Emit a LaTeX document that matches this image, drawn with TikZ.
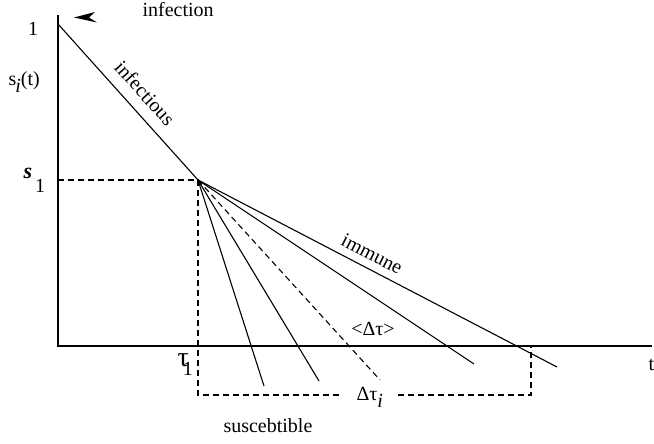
\documentclass[tikz,border=0pt]{standalone}
\usepackage{fontspec}
\setmainfont{Liberation Serif}
\begin{document}
\begin{tikzpicture}[x=1pt,y=-1pt,line width=1.1pt,
  lbl/.style={inner sep=0pt,font=\fontsize{20}{24}\selectfont},
  dsh/.style={dash pattern=on 6pt off 4pt}]
\useasboundingbox (0,0) rectangle (654,444);
% key points
\coordinate (top) at (58,15);
\coordinate (O) at (58,346);
\coordinate (xe) at (652,346);
\coordinate (one) at (58,24);
\coordinate (A) at (198,180);
\coordinate (s1y) at (58,180);
\coordinate (bl) at (198,395);
\coordinate (gL) at (340,395);
\coordinate (gR) at (398,395);
\coordinate (br) at (531,395);
\coordinate (brt) at (531,346);
\coordinate (e1) at (264,386);
\coordinate (e2) at (319,381);
\coordinate (ed) at (380,380);
\coordinate (e3) at (474,364);
\coordinate (e4) at (557,367);
% axes
\draw (top) -- (O) -- (xe);
% curves
\draw (one) -- (A);
\draw (A) -- (e1);
\draw (A) -- (e2);
\draw[dsh] (A) -- (ed);
\draw (A) -- (e3);
\draw (A) -- (e4);
% dashed guides
\draw[dsh] (s1y) -- (A) -- (bl) -- (gL);
\draw[dsh] (gR) -- (br) -- (brt);
% arrowhead
\fill (74,17.5) -- (95,12) -- (89,17.5) -- (97,22.5) -- cycle;
% labels
\node[lbl,anchor=base west] (infection) at (142,17) {infection};
\node[lbl] (lone) at (33,29) {1};
\node[lbl,anchor=base west] (si) at (8,85) {s\kern-1pt\raisebox{-7pt}{\textit{i}}(t)};
\node[lbl,anchor=base west] (sone) at (23,178) {\fontsize{22}{24}\selectfont\textbf{\textit{s}}\kern3pt\raisebox{-14pt}{\fontsize{20}{24}\selectfont 1}};
\node[lbl,rotate=-48] (infectious) at (145,93) {infectious};
\node[lbl,rotate=-27] (immune) at (372,254) {immune};
\node[lbl] (mean) at (373,329) {<Δτ>};
\node[lbl,anchor=base west] (dti) at (356,400) {Δτ\raisebox{-7pt}{\textit{i}}};
\node[lbl,anchor=base west] (tau) at (177,366) {\fontsize{28}{30}\selectfont τ\kern-6pt\raisebox{-9pt}{\fontsize{20}{24}\selectfont 1}};
\node[lbl,anchor=base west] (susc) at (223,432) {suscebtible};
\node[lbl,anchor=base west] (t) at (648,370) {t};
\end{tikzpicture}
\end{document}
